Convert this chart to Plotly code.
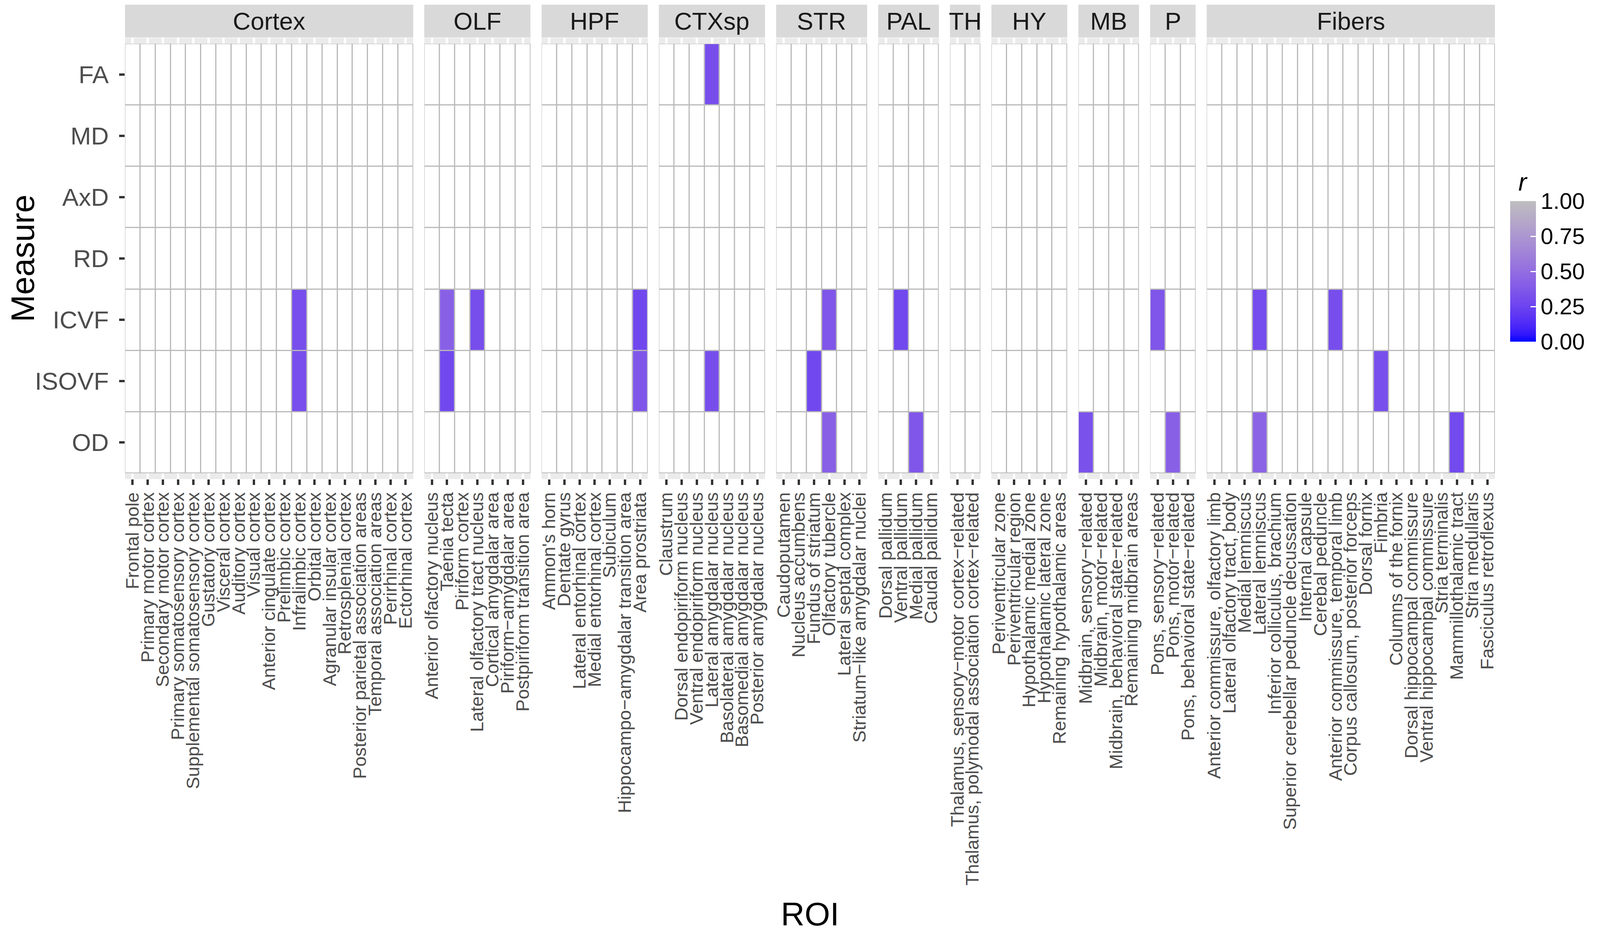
import numpy as np
import plotly.graph_objects as go

# ---- data ----
measures = ["FA", "MD", "AxD", "RD", "ICVF", "ISOVF", "OD"]

facet_names = ["Cortex", "OLF", "HPF", "CTXsp", "STR", "PAL", "TH", "HY", "MB", "P", "Fibers"]

cortex_rois = ["Frontal pole", "Primary motor cortex", "Secondary motor cortex",
               "Primary somatosensory cortex", "Supplemental somatosensory cortex",
               "Gustatory cortex", "Visceral cortex", "Auditory cortex", "Visual cortex",
               "Anterior cingulate cortex", "Prelimbic cortex", "Infralimbic cortex",
               "Orbital cortex", "Agranular insular cortex", "Retrosplenial cortex",
               "Posterior parietal association areas", "Temporal association areas",
               "Perirhinal cortex", "Ectorhinal cortex"]
olf_rois = ["Anterior olfactory nucleus", "Taenia tecta", "Piriform cortex",
            "Lateral olfactory tract nucleus", "Cortical amygdalar area",
            "Piriform\u2212amygdalar area", "Postpiriform transition area"]
hpf_rois = ["Ammon's horn", "Dentate gyrus", "Lateral entorhinal cortex",
            "Medial entorhinal cortex", "Subiculum",
            "Hippocampo\u2212amygdalar transition area", "Area prostriata"]
ctxsp_rois = ["Claustrum", "Dorsal endopiriform nucleus", "Ventral endopiriform nucleus",
              "Lateral amygdalar nucleus", "Basolateral amygdalar nucleus",
              "Basomedial amygdalar nucleus", "Posterior amygdalar nucleus"]
str_rois = ["Caudoputamen", "Nucleus accumbens", "Fundus of striatum", "Olfactory tubercle",
            "Lateral septal complex", "Striatum\u2212like amygdalar nuclei"]
pal_rois = ["Dorsal pallidum", "Ventral pallidum", "Medial pallidum", "Caudal pallidum"]
th_rois = ["Thalamus, sensory\u2212motor cortex\u2212related",
           "Thalamus, polymodal association cortex\u2212related"]
hy_rois = ["Periventricular zone", "Periventricular region", "Hypothalamic medial zone",
           "Hypothalamic lateral zone", "Remaining hypothalamic areas"]
mb_rois = ["Midbrain, sensory\u2212related", "Midbrain, motor\u2212related",
           "Midbrain, behavioral state\u2212related", "Remaining midbrain areas"]
p_rois = ["Pons, sensory\u2212related", "Pons, motor\u2212related",
          "Pons, behavioral state\u2212related"]
fiber_rois = ["Anterior commissure, olfactory limb", "Lateral olfactory tract, body",
              "Medial lemniscus", "Lateral lemniscus", "Inferior colliculus, brachium",
              "Superior cerebellar peduncle decussation", "Internal capsule",
              "Cerebal peduncle", "Anterior commissure, temporal limb",
              "Corpus callosum, posterior forceps", "Dorsal fornix", "Fimbria",
              "Columns of the fornix", "Dorsal hippocampal commissure",
              "Ventral hippocampal commissure", "Stria terminalis",
              "Mammillothalamic tract", "Stria medullaris", "Fasciculus retroflexus"]

facet_rois = [cortex_rois, olf_rois, hpf_rois, ctxsp_rois, str_rois, pal_rois,
              th_rois, hy_rois, mb_rois, p_rois, fiber_rois]

# significant correlations (everything else is blank)
sig_roi = ["Infralimbic cortex", "Infralimbic cortex",
           "Taenia tecta", "Taenia tecta", "Lateral olfactory tract nucleus",
           "Area prostriata", "Area prostriata",
           "Lateral amygdalar nucleus", "Lateral amygdalar nucleus",
           "Olfactory tubercle", "Olfactory tubercle", "Fundus of striatum",
           "Ventral pallidum", "Medial pallidum",
           "Midbrain, sensory\u2212related",
           "Pons, sensory\u2212related", "Pons, motor\u2212related",
           "Lateral lemniscus", "Lateral lemniscus", "Anterior commissure, temporal limb",
           "Fimbria", "Mammillothalamic tract"]
sig_measure = ["ICVF", "ISOVF",
               "ICVF", "ISOVF", "ICVF",
               "ICVF", "ISOVF",
               "FA", "ISOVF",
               "ICVF", "OD", "ISOVF",
               "ICVF", "OD",
               "OD",
               "ICVF", "OD",
               "ICVF", "OD", "ICVF",
               "ISOVF", "OD"]
sig_r = [0.32, 0.32,
         0.42, 0.28, 0.31,
         0.28, 0.36,
         0.31, 0.31,
         0.36, 0.42, 0.28,
         0.28, 0.36,
         0.33,
         0.36, 0.42,
         0.30, 0.44, 0.31,
         0.32, 0.29]


# ---- colour scale: blue -> grey interpolated in Lab like ggplot ----
def _to_lab(hexc):
    rgb = np.array([int(hexc[i:i + 2], 16) for i in (1, 3, 5)]) / 255.0
    lin = np.where(rgb <= 0.04045, rgb / 12.92, ((rgb + 0.055) / 1.055) ** 2.4)
    m = np.array([[0.4124, 0.3576, 0.1805], [0.2126, 0.7152, 0.0722], [0.0193, 0.1192, 0.9505]])
    xyz = m @ lin / np.array([0.95047, 1.0, 1.08883])
    d = 6 / 29
    f = np.where(xyz > d ** 3, np.cbrt(xyz), xyz / (3 * d * d) + 4 / 29)
    return np.array([116 * f[1] - 16, 500 * (f[0] - f[1]), 200 * (f[1] - f[2])])


def _to_hex(lab):
    d = 6 / 29
    fy = (lab[0] + 16) / 116
    f = np.array([fy + lab[1] / 500, fy, fy - lab[2] / 200])
    xyz = np.where(f > d, f ** 3, 3 * d * d * (f - 4 / 29)) * np.array([0.95047, 1.0, 1.08883])
    mi = np.array([[3.2406, -1.5372, -0.4986], [-0.9689, 1.8758, 0.0415], [0.0557, -0.2040, 1.0570]])
    lin = np.clip(mi @ xyz, 0, 1)
    rgb = np.where(lin <= 0.0031308, 12.92 * lin, 1.055 * lin ** (1 / 2.4) - 0.055)
    r, g, b = (np.clip(rgb, 0, 1) * 255).round().astype(int)
    return f"#{r:02x}{g:02x}{b:02x}"


lo, hi = _to_lab("#0000FF"), _to_lab("#BEBEBE")
colorscale = [[t, _to_hex(lo + t * (hi - lo))] for t in np.linspace(0, 1, 21)]

# ---- layout geometry (pixels) ----
# the browser page is only 4096 px wide, so horizontal sizes from the
# 4328 px wide original are squeezed by sx
W, H = 4096, 2387
sx = W / 4328
ml, mr, mt, mb = round(330 * sx), round(293 * sx), 89, 1168
pw, ph = W - ml - mr, H - mt - mb
gap_px = 30 * sx
ncols = [len(r) for r in facet_rois]
cell_px = (pw - gap_px * (len(ncols) - 1)) / sum(ncols)
pad = 15 / 157.0

FONT = "Liberation Sans, Arial, sans-serif"
grid_col = "#B9B9B9"

cb_left = 3858
cb_thick = 66

fig = go.Figure()
shapes, annotations = [], []
start = 0.0
for i, (name, rois) in enumerate(zip(facet_names, facet_rois)):
    n = len(rois)
    s = "" if i == 0 else str(i + 1)
    z = np.full((len(measures), n), np.nan)
    for roi, m, r in zip(sig_roi, sig_measure, sig_r):
        if roi in rois:
            z[measures.index(m), rois.index(roi)] = r
    ones = np.zeros((len(measures), n))

    # grey layer underneath shows through the gaps as tile borders
    fig.add_trace(go.Heatmap(z=ones, x=rois, y=measures, showscale=False, hoverinfo="skip",
                             colorscale=[[0, grid_col], [1, grid_col]],
                             xaxis="x" + s, yaxis="y" + s))
    fig.add_trace(go.Heatmap(z=ones, x=rois, y=measures, showscale=False, hoverinfo="skip",
                             colorscale=[[0, "white"], [1, "white"]], xgap=3, ygap=3,
                             xaxis="x" + s, yaxis="y" + s))
    fig.add_trace(go.Heatmap(
        z=z, x=rois, y=measures, zmin=0, zmax=1, colorscale=colorscale,
        xgap=3, ygap=3, showscale=(i == 0), xaxis="x" + s, yaxis="y" + s,
        colorbar=dict(
            x=(cb_left - ml) / pw, xanchor="left", xpad=0,
            y=1 - (867 - mt) / ph, yanchor="bottom", ypad=0,
            thickness=cb_thick, len=360, lenmode="pixels",
            tickvals=[0, 0.25, 0.5, 0.75, 1], ticktext=["0.00", "0.25", "0.50", "0.75", "1.00"],
            ticks="inside", tickcolor="white", ticklen=14, tickwidth=3,
            outlinewidth=0, tickfont=dict(size=58, color="black", family=FONT),
        ),
    ))

    x0 = start / pw
    x1 = (start + n * cell_px) / pw
    start += n * cell_px + gap_px

    fig.layout["xaxis" + s] = dict(
        domain=[x0, x1], anchor="y" + s, type="category", range=[-0.5, n - 0.5],
        tickmode="array", tickvals=rois, ticktext=rois,
        tickangle=-90, ticks="outside", ticklen=14, tickwidth=6, tickcolor="#333333",
        tickfont=dict(size=47, color="#4D4D4D", family=FONT),
        showgrid=True, gridcolor="white", gridwidth=6, zeroline=False, showline=False,
    )
    fig.layout["yaxis" + s] = dict(
        domain=[0, 1], anchor="x" + s, type="category",
        range=[len(measures) - 0.5 + pad, -0.5 - pad],
        showgrid=False, zeroline=False, showline=False,
        showticklabels=(i == 0), ticks="outside" if i == 0 else "",
        ticklen=14, tickwidth=6, tickcolor="#333333", ticklabelstandoff=14,
        tickfont=dict(size=63, color="#4D4D4D", family=FONT),
    )

    # facet strip
    shapes.append(dict(type="rect", xref="paper", yref="paper", x0=x0, x1=x1,
                       y0=1 + 1 / ph, y1=1 + (mt - 4) / ph,
                       fillcolor="#D9D9D9", line=dict(width=0), layer="below"))
    annotations.append(dict(text=name, xref="paper", yref="paper", x=(x0 + x1) / 2,
                            y=1 + (mt - 4 + 1) / ph / 2, xanchor="center", yanchor="middle",
                            showarrow=False, font=dict(size=63, color="#1A1A1A", family=FONT)))

annotations.append(dict(text="Measure", xref="paper", yref="paper", x=(50 - ml) / pw, y=0.5,
                        textangle=-90, xanchor="center", yanchor="middle", showarrow=False,
                        font=dict(size=84, color="black", family=FONT)))
annotations.append(dict(text="ROI", xref="paper", yref="paper", x=0.5, y=1 - (2333 - mt) / ph,
                        xanchor="center", yanchor="middle", showarrow=False,
                        font=dict(size=84, color="black", family=FONT)))
# legend title, centred over the colour bar
annotations.append(dict(text="<i>r</i>", xref="paper", yref="paper",
                        x=(cb_left + cb_thick / 2 - ml) / pw, y=1 - (458 - mt) / ph,
                        xanchor="center", yanchor="middle", showarrow=False,
                        font=dict(size=64, color="black", family=FONT)))

fig.update_layout(
    width=W, height=H,
    margin=dict(l=ml, r=mr, t=mt, b=mb, autoexpand=False),
    paper_bgcolor="white", plot_bgcolor="#EBEBEB",
    shapes=shapes, annotations=annotations, showlegend=False,
    font=dict(family=FONT),
)

fig.write_html("out.html")
